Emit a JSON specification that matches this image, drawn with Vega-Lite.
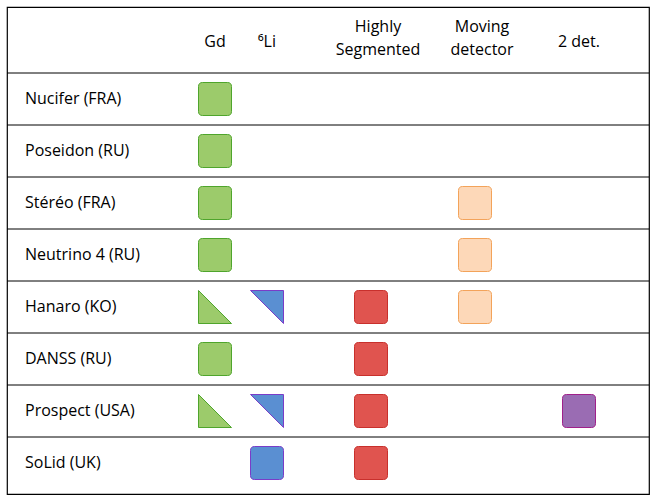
{
  "$schema": "https://vega.github.io/schema/vega-lite/v6.json",
  "width": 642,
  "height": 487,
  "autosize": "none",
  "padding": {"left": 7, "top": 7, "right": 6, "bottom": 4},
  "background": "white",
  "config": {"view": {"stroke": "#000000", "strokeWidth": 1.2}},
  "datasets": {
    "rows": [
      {"row": "Nucifer (FRA)"}, {"row": "Poseidon (RU)"}, {"row": "Stéréo (FRA)"},
      {"row": "Neutrino 4 (RU)"}, {"row": "Hanaro (KO)"}, {"row": "DANSS (RU)"},
      {"row": "Prospect (USA)"}, {"row": "SoLid (UK)"}
    ],
    "headers": [
      {"col": "Gd", "label": "Gd", "lines": 1},
      {"col": "Li", "label": "⁶Li", "lines": 1},
      {"col": "HS", "label": "Highly\nSegmented", "lines": 2},
      {"col": "MD", "label": "Moving\ndetector", "lines": 2},
      {"col": "D2", "label": "2 det.", "lines": 1}
    ],
    "cells": [
      {"row": "Nucifer (FRA)", "col": "Gd", "part": "full", "tech": "Gd"},
      {"row": "Poseidon (RU)", "col": "Gd", "part": "full", "tech": "Gd"},
      {"row": "Stéréo (FRA)", "col": "Gd", "part": "full", "tech": "Gd"},
      {"row": "Stéréo (FRA)", "col": "MD", "part": "full", "tech": "Moving"},
      {"row": "Neutrino 4 (RU)", "col": "Gd", "part": "full", "tech": "Gd"},
      {"row": "Neutrino 4 (RU)", "col": "MD", "part": "full", "tech": "Moving"},
      {"row": "Hanaro (KO)", "col": "Gd", "part": "lower", "tech": "Gd"},
      {"row": "Hanaro (KO)", "col": "Li", "part": "upper", "tech": "Li"},
      {"row": "Hanaro (KO)", "col": "HS", "part": "full", "tech": "Segmented"},
      {"row": "Hanaro (KO)", "col": "MD", "part": "full", "tech": "Moving"},
      {"row": "DANSS (RU)", "col": "Gd", "part": "full", "tech": "Gd"},
      {"row": "DANSS (RU)", "col": "HS", "part": "full", "tech": "Segmented"},
      {"row": "Prospect (USA)", "col": "Gd", "part": "lower", "tech": "Gd"},
      {"row": "Prospect (USA)", "col": "Li", "part": "upper", "tech": "Li"},
      {"row": "Prospect (USA)", "col": "HS", "part": "full", "tech": "Segmented"},
      {"row": "Prospect (USA)", "col": "D2", "part": "full", "tech": "TwoDet"},
      {"row": "SoLid (UK)", "col": "Li", "part": "full", "tech": "Li"},
      {"row": "SoLid (UK)", "col": "HS", "part": "full", "tech": "Segmented"}
    ]
  },
  "encoding": {
    "x": {
      "field": "col", "type": "nominal", "axis": null,
      "scale": {"type": "point", "padding": 0, "range": [0, 572],
        "domain": ["name", "p1", "p2", "p3", "Gd", "Li", "p4", "HS", "p5", "MD", "p6", "D2"]}
    },
    "y": {
      "field": "row", "type": "nominal", "axis": null, "sort": null,
      "scale": {"type": "point", "padding": 0, "range": [40, 456],
        "domain": ["header", "Nucifer (FRA)", "Poseidon (RU)", "Stéréo (FRA)", "Neutrino 4 (RU)", "Hanaro (KO)", "DANSS (RU)", "Prospect (USA)", "SoLid (UK)"]}
    }
  },
  "layer": [
    {
      "data": {"name": "rows"},
      "mark": {"type": "rule", "color": "#000000", "strokeWidth": 1, "yOffset": -26},
      "encoding": {"x": null}
    },
    {
      "data": {"name": "rows"},
      "transform": [{"calculate": "'name'", "as": "col"}],
      "mark": {"type": "text", "align": "left", "baseline": "middle", "dx": 18, "font": "Open Sans", "fontSize": 16, "color": "#000000"},
      "encoding": {"text": {"field": "row"}}
    },
    {
      "data": {"name": "headers"},
      "transform": [{"filter": "datum.lines == 1"}, {"calculate": "'header'", "as": "row"}],
      "mark": {"type": "text", "align": "center", "baseline": "middle", "dy": -5, "font": "Open Sans", "fontSize": 16, "color": "#000000"},
      "encoding": {"text": {"field": "label"}}
    },
    {
      "data": {"name": "headers"},
      "transform": [{"filter": "datum.lines == 2"}, {"calculate": "'header'", "as": "row"}],
      "mark": {"type": "text", "align": "center", "baseline": "middle", "dy": -20, "lineBreak": "\n", "lineHeight": 23, "font": "Open Sans", "fontSize": 16, "color": "#000000"},
      "encoding": {"text": {"field": "label"}, "xOffset": {"value": 7}}
    },
    {
      "data": {"name": "cells"},
      "mark": {"type": "point", "filled": true, "opacity": 1, "size": 1089, "strokeWidth": 1},
      "encoding": {
        "shape": {"field": "part", "type": "nominal", "legend": null,
          "scale": {"domain": ["full", "lower", "upper"],
            "range": [
              "M -1 -0.75 Q -1 -1 -0.75 -1 L 0.75 -1 Q 1 -1 1 -0.75 L 1 0.75 Q 1 1 0.75 1 L -0.75 1 Q -1 1 -1 0.75 Z",
              "M -1 -1 L 1 1 L -1 1 Z",
              "M -1 -1 L 1 -1 L 1 1 Z"
            ]}},
        "fill": {"field": "tech", "type": "nominal", "legend": null,
          "scale": {"domain": ["Gd", "Li", "Segmented", "Moving", "TwoDet"],
            "range": ["#9ccb6b", "#5a8fd2", "#e0544f", "#fdd8b8", "#9a6cb3"]}},
        "stroke": {"field": "tech", "type": "nominal", "legend": null,
          "scale": {"domain": ["Gd", "Li", "Segmented", "Moving", "TwoDet"],
            "range": ["#4fa52c", "#7a3cc8", "#c8302c", "#f3a35a", "#a0208a"]}}
      }
    }
  ]
}
